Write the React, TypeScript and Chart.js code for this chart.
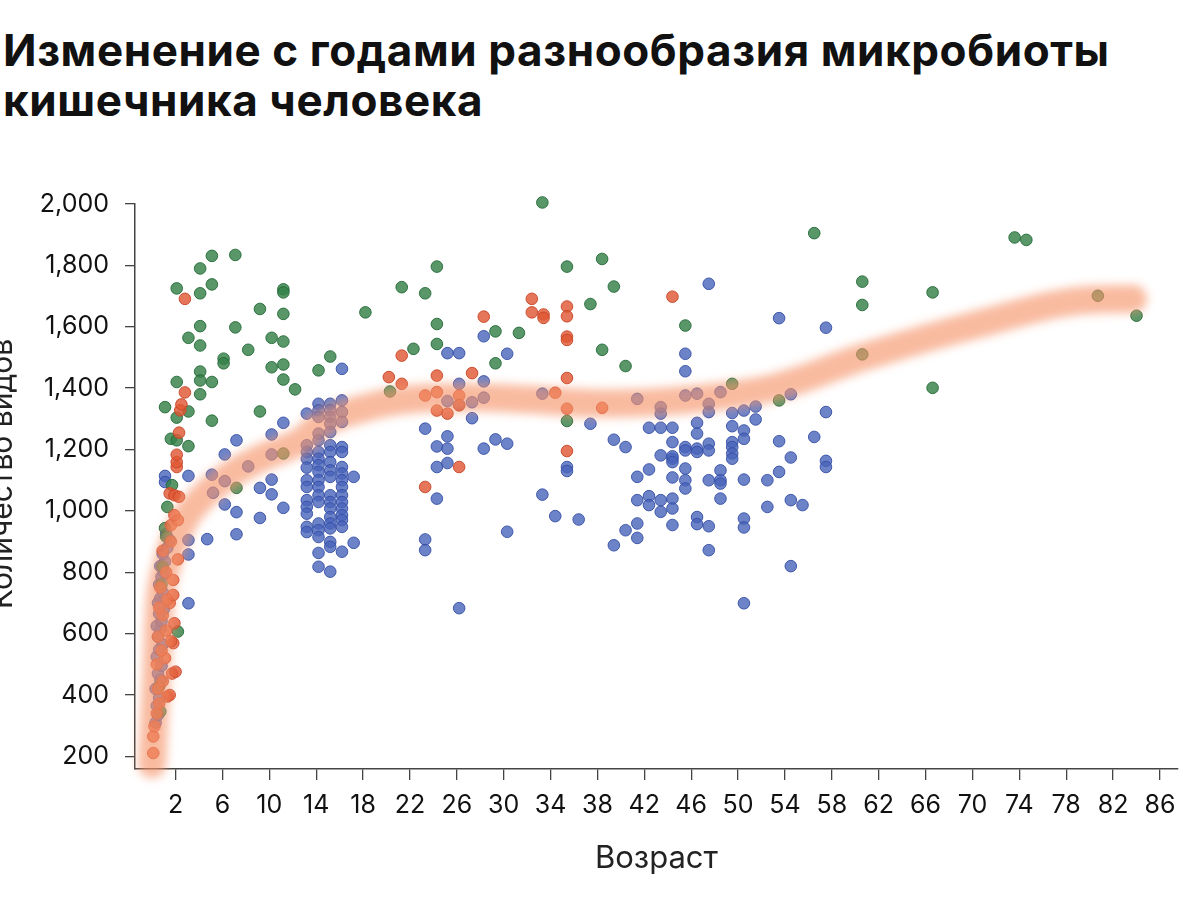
import React, { useEffect, useRef } from 'react';
import { Chart, registerables } from 'chart.js';

Chart.register(...registerables);

const titleLines = ['Изменение с годами разнообразия микробиоты', 'кишечника человека'];
const xAxisTitle = 'Возраст';
const yAxisTitle = 'Количество видов';

const xTicks = [2, 6, 10, 14, 18, 22, 26, 30, 34, 38, 42, 46, 50, 54, 58, 62, 66, 70, 74, 78, 82, 86];
const yTicks = [200, 400, 600, 800, 1000, 1200, 1400, 1600, 1800, 2000];

// trend band (age, species)
const trendAges = [0.0, 0.38, 0.63, 1.23, 2.6, 4.3, 6.6, 9.2, 12.8, 14.3, 18.6, 22.8, 27.1, 32.2, 38.2, 46.7, 53.1, 60.6, 70.6, 79.2, 83.7];
const trendValues = [175, 472, 687, 817, 960, 1045, 1116, 1171, 1230, 1279, 1340, 1366, 1370, 1363, 1350, 1366, 1402, 1500, 1610, 1685, 1691];

const greenPoints: [number, number][] = [
  [0.6, 428], [0.7, 346], [0.9, 818], [0.8, 760], [1.1, 944], [1.2, 916], [1.3, 1013], [1.7, 1084], [2.2, 607],
  [1.1, 1338], [1.6, 1235], [2.1, 1230], [2.1, 1304], [3.1, 1324], [3.1, 1211], [2.1, 1420], [2.1, 1725],
  [3.1, 1564], [4.1, 1790], [4.1, 1709], [5.1, 1831], [5.1, 1738], [7.1, 1834], [4.1, 1602], [4.1, 1539],
  [4.1, 1454], [4.1, 1425], [5.1, 1420], [4.1, 1380], [5.1, 1294], [6.1, 1496], [6.1, 1481], [7.1, 1598],
  [8.2, 1525], [9.2, 1658], [9.2, 1324], [10.2, 1564], [10.2, 1468], [11.2, 1722], [11.2, 1712], [11.2, 1642],
  [11.2, 1552], [11.2, 1477], [11.2, 1428], [12.2, 1396], [14.2, 1458], [15.2, 1503], [18.2, 1647],
  [7.2, 1075], [11.2, 1187],
  [20.3, 1389], [21.3, 1729], [22.3, 1528], [23.3, 1709], [24.3, 1796], [24.3, 1609], [24.3, 1544],
  [29.3, 1585], [29.3, 1481], [31.3, 1580], [33.3, 2005], [35.4, 1796], [35.4, 1293], [37.4, 1674],
  [38.4, 1821], [38.4, 1525], [39.4, 1731], [40.4, 1472], [45.5, 1604], [49.5, 1414], [53.5, 1360],
  [56.5, 1905], [60.6, 1747], [60.6, 1671], [60.6, 1510], [66.6, 1712], [66.6, 1401], [73.6, 1891],
  [74.6, 1883], [80.7, 1701], [84.0, 1636],
];

const redPoints: [number, number][] = [
  [0.1, 211], [0.1, 265], [0.2, 298], [0.4, 340], [0.6, 372], [1.3, 395], [1.5, 400], [0.5, 420], [0.9, 445],
  [1.7, 470], [2.0, 476], [0.4, 500], [1.1, 520], [0.8, 545], [1.8, 569], [1.6, 575], [0.5, 590], [1.2, 610],
  [1.9, 634], [0.9, 660], [0.6, 685], [1.5, 700], [1.3, 712], [1.8, 726], [0.7, 750], [1.8, 775], [1.2, 800],
  [2.2, 842], [0.9, 870], [1.6, 900], [1.6, 953], [2.2, 970], [1.9, 986], [1.5, 1057], [1.9, 1051], [2.3, 1046],
  [2.1, 1143], [2.1, 1159], [2.1, 1183], [2.3, 1255], [2.4, 1328], [2.5, 1347], [2.8, 1386], [2.8, 1691],
  [20.2, 1436], [21.3, 1506], [21.3, 1414], [23.3, 1376], [23.3, 1078], [24.3, 1441], [24.3, 1387], [24.3, 1327],
  [25.2, 1317], [26.2, 1376], [26.2, 1344], [26.2, 1143], [27.3, 1449], [28.3, 1633], [32.4, 1691], [32.4, 1647],
  [33.4, 1640], [33.4, 1629], [34.4, 1385], [35.4, 1666], [35.4, 1634], [35.4, 1568], [35.4, 1557], [35.4, 1433],
  [35.4, 1333], [35.4, 1195], [38.4, 1336], [44.4, 1698],
];

const bluePoints: [number, number][] = [
  [0.3, 310], [0.5, 335], [0.4, 365], [0.6, 390], [0.3, 420], [0.7, 450], [0.5, 470], [0.8, 495], [0.4, 525],
  [0.6, 548], [0.9, 565], [0.5, 590], [0.7, 615], [0.4, 625], [0.8, 640], [0.6, 665], [1.0, 680], [0.5, 700],
  [0.7, 715], [0.9, 735], [0.6, 760], [0.8, 785], [1.0, 800], [0.7, 820], [1.1, 835], [0.9, 860], [1.3, 880],
  [1.5, 905], [1.2, 925],
  [1.1, 1114], [1.1, 1094], [3.1, 1114], [5.1, 1118], [6.2, 1184], [7.2, 1230], [6.2, 1097], [5.2, 1059],
  [6.2, 1021], [8.2, 1145], [10.2, 1184], [9.2, 1075], [10.2, 1102], [10.2, 1054], [11.2, 1010], [7.2, 996],
  [9.2, 977], [7.2, 924], [4.7, 908], [3.1, 905], [3.1, 858], [3.1, 699], [16.2, 1463], [11.2, 1287], [10.2, 1249],
  [13.2, 1317], [13.2, 1214], [13.2, 1192], [13.2, 1170], [13.2, 1141], [13.2, 1100], [13.2, 1078], [13.2, 1035],
  [13.2, 1013], [13.2, 991], [13.2, 948], [13.2, 931],
  [14.2, 1349], [14.2, 1328], [14.2, 1306], [14.2, 1252], [14.2, 1230], [14.2, 1192], [14.2, 1170], [14.2, 1149],
  [14.2, 1127], [14.2, 1100], [14.2, 1078], [14.2, 1051], [14.2, 1029], [14.2, 959], [14.2, 937], [14.2, 915],
  [14.2, 863], [14.2, 818],
  [15.2, 1349], [15.2, 1328], [15.2, 1306], [15.2, 1284], [15.2, 1257], [15.2, 1214], [15.2, 1192], [15.2, 1159],
  [15.2, 1132], [15.2, 1111], [15.2, 1051], [15.2, 1029], [15.2, 1008], [15.2, 980], [15.2, 959], [15.2, 943],
  [15.2, 899], [15.2, 883], [15.2, 802],
  [16.2, 1360], [16.2, 1322], [16.2, 1290], [16.2, 1208], [16.2, 1192], [16.2, 1143], [16.2, 1122], [16.2, 1100],
  [16.2, 1078], [16.2, 1051], [16.2, 1029], [16.2, 1008], [16.2, 986], [16.2, 970], [16.2, 948], [16.2, 867],
  [17.2, 1111], [17.2, 896],
  [25.2, 1514], [26.2, 1514], [26.2, 1414], [23.3, 1268], [25.2, 1243], [24.3, 1210], [25.2, 1203], [24.3, 1143],
  [25.2, 1156], [24.3, 1040], [23.3, 907], [23.3, 872], [28.3, 1569], [30.3, 1512], [28.3, 1422], [25.2, 1358],
  [26.2, 1346], [27.3, 1354], [28.3, 1369], [27.3, 1302], [28.3, 1203], [29.3, 1233], [30.3, 1219], [30.3, 932],
  [26.2, 683], [33.3, 1382], [33.3, 1053], [34.4, 983], [36.4, 972], [35.4, 1143], [35.4, 1130], [37.4, 1284],
  [39.4, 1232], [40.4, 1208], [39.4, 888], [40.4, 937], [41.4, 959], [41.4, 912],
  [41.4, 1111], [42.4, 1135], [41.4, 1035], [42.4, 1048], [42.4, 1019], [43.4, 1035], [43.4, 997], [44.4, 1040],
  [44.4, 1008], [44.4, 954], [42.4, 1271], [43.4, 1271], [44.4, 1271], [43.4, 1181], [44.4, 1170], [44.4, 1224],
  [41.4, 1365], [43.4, 1338], [43.4, 1317], [47.5, 1740], [53.5, 1628], [57.5, 1597], [45.5, 1512], [45.5, 1455],
  [45.5, 1376], [46.5, 1382], [48.5, 1387], [47.5, 1349], [47.5, 1322], [49.5, 1319], [50.5, 1327], [51.5, 1340],
  [54.5, 1380], [51.5, 1298], [57.5, 1322], [46.5, 1287], [49.5, 1276], [50.5, 1262], [50.5, 1235], [46.5, 1252],
  [45.5, 1208], [45.5, 1197], [46.5, 1203], [46.5, 1192], [47.5, 1219], [47.5, 1197], [49.5, 1224], [49.5, 1208],
  [49.5, 1187], [49.5, 1170], [53.5, 1227], [56.5, 1241], [44.4, 1178], [44.4, 1159], [54.5, 1174], [57.5, 1163],
  [57.5, 1143], [45.5, 1138], [45.5, 1100], [45.5, 1073], [44.4, 1109], [47.5, 1100], [48.5, 1132], [48.5, 1100],
  [48.5, 1089], [50.5, 1102], [52.5, 1100], [53.5, 1127], [48.5, 1040], [52.5, 1013], [54.5, 1035], [55.5, 1019],
  [46.5, 980], [46.5, 957], [47.5, 950], [50.5, 975], [50.5, 946], [47.5, 872], [54.5, 820], [50.5, 699],
];

const toXY = (arr: [number, number][]) => arr.map(([x, y]) => ({ x, y }));

const bandBlur = {
  id: 'bandBlur',
  beforeDatasetDraw(chart: any, args: any) {
    if (args.index === 0) {
      chart.ctx.save();
      chart.ctx.filter = 'blur(5px)';
    }
  },
  afterDatasetDraw(chart: any, args: any) {
    if (args.index === 0) chart.ctx.restore();
  },
};

const FONT = 'Inter';

export default function App() {
  const ref = useRef<HTMLCanvasElement>(null);
  useEffect(() => {
    if (!ref.current) return;
    const pointStyle = (bg: string, border: string) => ({
      backgroundColor: bg,
      borderColor: border,
      borderWidth: 1,
      pointRadius: 5.8,
      showLine: false,
      clip: 8,
    });
    const chart = new Chart(ref.current, {
      type: 'scatter',
      data: {
        datasets: [
          {
            data: trendAges.map((x, i) => ({ x, y: trendValues[i] })),
            showLine: true,
            pointRadius: 0,
            borderColor: 'rgba(246,148,106,0.64)',
            borderWidth: 28,
            borderCapStyle: 'round',
            borderJoinStyle: 'round',
            cubicInterpolationMode: 'monotone',
            fill: false,
            clip: false,
          } as any,
          { data: toXY(redPoints), ...pointStyle('rgba(224,88,52,0.82)', 'rgba(200,68,38,0.9)') },
          { data: toXY(greenPoints), ...pointStyle('rgba(52,128,72,0.82)', 'rgba(34,104,54,0.9)') },
          { data: toXY(bluePoints), ...pointStyle('rgba(72,100,186,0.8)', 'rgba(52,78,165,0.9)') },
        ],
      },
      options: {
        animation: false,
        responsive: false,
        events: [],
        layout: { padding: { top: 204, right: 22, bottom: 21, left: 0 } },
        plugins: { legend: { display: false }, tooltip: { enabled: false }, title: { display: false } },
        scales: {
          x: {
            type: 'linear',
            min: -1.46,
            max: 87.54,
            afterBuildTicks: (s: any) => {
              s.ticks = xTicks.map((v) => ({ value: v }));
            },
            afterFit: (s: any) => {
              s.height = 110;
            },
            grid: { drawOnChartArea: false, drawTicks: true, tickLength: 11, color: '#444', lineWidth: 1.3 },
            border: { display: true, color: '#444', width: 1.5 },
            ticks: {
              font: { family: FONT, size: 25 },
              color: '#111',
              padding: 10,
              maxRotation: 0,
              autoSkip: false,
              callback: (v: any) => String(v),
            },
            title: {
              display: true,
              text: xAxisTitle,
              font: { family: FONT, size: 31 },
              color: '#222',
              padding: { top: 0, bottom: 2 },
            },
          },
          y: {
            type: 'linear',
            min: 159,
            max: 2000,
            afterBuildTicks: (s: any) => {
              s.ticks = yTicks.map((v) => ({ value: v }));
            },
            afterFit: (s: any) => {
              s.width = 155;
            },
            grid: { drawOnChartArea: false, drawTicks: true, tickLength: 10, color: '#444', lineWidth: 1.3 },
            border: { display: true, color: '#444', width: 1.5 },
            ticks: {
              font: { family: FONT, size: 25 },
              color: '#111',
              padding: 16,
              autoSkip: false,
              callback: (v: any) => Number(v).toLocaleString('en-US'),
            },
            title: {
              display: true,
              text: '\u00a0\u00a0\u00a0' + yAxisTitle,
              font: { family: FONT, size: 30 },
              color: '#222',
              padding: { top: 5, bottom: 0 },
            },
          },
        },
      },
      plugins: [bandBlur],
    } as any);
    return () => chart.destroy();
  }, []);

  return (
    <div
      style={{
        position: 'fixed',
        left: 0,
        top: 0,
        width: 1200,
        height: 900,
        overflow: 'hidden',
        background: '#fff',
      }}
    >
      <div
        style={{
          position: 'absolute',
          left: 3,
          top: 25,
          fontFamily: FONT,
          fontWeight: 700,
          fontSize: 44,
          lineHeight: '50px',
          letterSpacing: '0.6px',
          color: '#111',
          whiteSpace: 'nowrap',
        }}
      >
        {titleLines.map((t) => (
          <div key={t}>{t}</div>
        ))}
      </div>
      <canvas
        ref={ref}
        width={1220}
        height={900}
        style={{ position: 'absolute', left: -20, top: 0, width: 1220, height: 900 }}
      />
    </div>
  );
}
